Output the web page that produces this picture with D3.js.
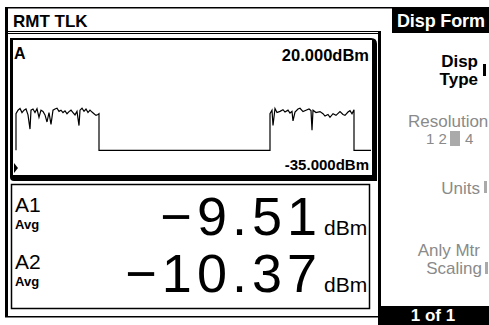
<!DOCTYPE html>
<html><head><meta charset="utf-8">
<script src="https://cdn.jsdelivr.net/npm/d3@7"></script>
<style>html,body{margin:0;padding:0;background:#fff;}svg{display:block;}</style>
</head><body>
<script>
// ---- data ----
const scaleTop = 20;      // dBm
const scaleBottom = -35;  // dBm
const topLabel = "20.000dBm";
const bottomLabel = "-35.000dBm";
const channelLabel = "A";
// trace: time position (display units) and power (dBm)
const traceT = [16,16,18,20,22,24,26,28,30,31,33,35,37,39,41,43,45,47,49,51,53,55,57,59,61,63,65,67,69,71,73,75,77,79,80,82,84,86,88,90,92,94,96,98,99,99,
  270,270,272,273,275,277,280,283,285,288,290,292,293,295,298,300,303,306,309,311,312,313,316,320,323,325,328,330,333,336,340,343,345,348,350,352,354,354,371];
const traceDbm = [-25,-9.5,-8,-7.3,-9,-8,-7.5,-10,-16,-8,-7.5,-9,-7.4,-11,-8,-8.5,-10,-13,-9,-14,-8,-7.5,-7.2,-8.5,-8,-9,-8.3,-9.5,-8.6,-8,-9,-10,-8.5,-14.5,-8,-7.2,-8.5,-7.5,-9,-8,-8.8,-9.5,-10.2,-9.8,-9.5,-25,
  -25,-9.5,-8,-14.5,-7.3,-9,-8.5,-7.8,-8.8,-8,-9.2,-8.5,-12.5,-8.8,-7.5,-7.2,-8.6,-8,-7.5,-8.2,-16.5,-8,-9,-8.6,-9.5,-10.5,-9.8,-11,-9.5,-10.2,-8.6,-9.8,-10.2,-8.8,-8.2,-9.5,-7.8,-25,-25];
const rowNames = ["A1","A2"];
const rowModes = ["Avg","Avg"];
const rowValues = ["\u22129.51","\u221210.37"];
const rowUnits = ["dBm","dBm"];
const headerLeft = "RMT TLK";
const headerRight = "Disp Form";
const pageLabel = "1 of 1";

const W = 489, H = 325;
const svg = d3.select("body").append("svg").attr("width", W).attr("height", H);
const F = "'Liberation Sans', Arial, sans-serif";

// ---- frames ----
svg.append("rect").attr("x",0).attr("y",0).attr("width",W).attr("height",H).attr("fill","#fff");
svg.append("rect").attr("x",5).attr("y",7).attr("width",3).attr("height",310).attr("fill","#000");
svg.append("rect").attr("x",5).attr("y",7).attr("width",387).attr("height",1.5).attr("fill","#000");
svg.append("rect").attr("x",5).attr("y",316).attr("width",374).attr("height",1.5).attr("fill","#000");
svg.append("rect").attr("x",8).attr("y",31).attr("width",372).attr("height",1).attr("fill","#000");
svg.append("rect").attr("x",8).attr("y",33).attr("width",372).attr("height",1).attr("fill","#000");
svg.append("text").attr("x",13).attr("y",27).attr("font-family",F).attr("font-weight","bold").attr("font-size",17).text(headerLeft);
svg.append("rect").attr("x",378).attr("y",31).attr("width",3).attr("height",294).attr("fill","#000");
svg.append("rect").attr("x",392).attr("y",7).attr("width",97).attr("height",26).attr("fill","#000");
svg.append("text").attr("x",397).attr("y",27).attr("fill","#fff").attr("font-family",F).attr("font-weight","bold").attr("font-size",18).attr("textLength",88).text(headerRight);
svg.append("rect").attr("x",378).attr("y",306).attr("width",111).attr("height",19).attr("fill","#000");
svg.append("text").attr("x",433).attr("y",321).attr("text-anchor","middle").attr("fill","#fff").attr("font-family",F).attr("font-weight","bold").attr("font-size",17).text(pageLabel);

// ---- graph panel ----
const gp = {x0:10, y0:38, x1:377, y1:181};
svg.append("path").attr("fill","#000")
  .attr("d", `M${gp.x0+4},${gp.y0} H${gp.x1-6} Q${gp.x1},${gp.y0} ${gp.x1},${gp.y0+6} V${gp.y1} H${gp.x0+4} Q${gp.x0},${gp.y1} ${gp.x0},${gp.y1-4} V${gp.y0} Z`);
svg.append("rect").attr("x",gp.x0+3).attr("y",gp.y0+2).attr("width",gp.x1-gp.x0-8).attr("height",gp.y1-gp.y0-8).attr("fill","#fff");

const x = d3.scaleLinear().domain([13, 372]).range([13, 372]);
const y = d3.scaleLinear().domain([scaleBottom, scaleTop]).range([174, 44]);
const line = d3.line().x((d,i)=>x(traceT[i])).y((d)=>y(d));
svg.append("path").datum(traceDbm).attr("d", line).attr("fill","none").attr("stroke","#000").attr("stroke-width",1.2);

svg.append("text").attr("x",14).attr("y",59).attr("font-family",F).attr("font-weight","bold").attr("font-size",16).text(channelLabel);
svg.append("text").attr("x",369).attr("y",61).attr("text-anchor","end").attr("font-family",F).attr("font-weight","bold").attr("font-size",16.5).text(topLabel);
svg.append("text").attr("x",369).attr("y",170).attr("text-anchor","end").attr("font-family",F).attr("font-weight","bold").attr("font-size",15).text(bottomLabel);
svg.append("path").attr("d","M14,163 L18,168 L14,173 Z").attr("fill","#000");

// ---- numeric panel ----
svg.append("rect").attr("x",11.5).attr("y",184.5).attr("width",358).attr("height",124).attr("fill","none").attr("stroke","#000").attr("stroke-width",1.5);
const rowY = [235, 292];
rowNames.forEach((n,i)=>{
  svg.append("text").attr("x",15).attr("y",rowY[i]-23).attr("font-family",F).attr("font-size",21).text(n);
  svg.append("text").attr("x",15).attr("y",rowY[i]-6).attr("font-family",F).attr("font-weight","bold").attr("font-size",13).text(rowModes[i]);
  svg.append("text").attr("x",322).attr("y",rowY[i]).attr("text-anchor","end").attr("font-family",F).attr("font-size",54).attr("letter-spacing",5).text(rowValues[i]);
  svg.append("text").attr("x",324).attr("y",rowY[i]).attr("font-family",F).attr("font-size",21).text(rowUnits[i]);
});

// ---- softkeys ----
const soft = svg.append("g").attr("font-family",F).attr("font-weight","bold").attr("font-size",17);
soft.append("text").attr("x",478).attr("y",67).attr("text-anchor","end").text("Disp");
soft.append("text").attr("x",478).attr("y",85).attr("text-anchor","end").text("Type");
svg.append("rect").attr("x",483).attr("y",64).attr("width",3).attr("height",12).attr("fill","#000");
const grey = svg.append("g").attr("font-family",F).attr("font-size",17).attr("fill","#8a8a8a");
grey.append("text").attr("x",408).attr("y",127).text("Resolution");
grey.append("text").attr("x",426).attr("y",144).attr("font-size",15).text("1 2");
svg.append("rect").attr("x",450).attr("y",131).attr("width",10).attr("height",15).attr("fill","#aaa");
grey.append("text").attr("x",451).attr("y",144).attr("font-size",15).attr("fill","#fff").text("3");
grey.append("text").attr("x",465).attr("y",144).attr("font-size",15).text("4");
grey.append("text").attr("x",480).attr("y",194).attr("text-anchor","end").text("Units");
svg.append("rect").attr("x",484).attr("y",181).attr("width",3).attr("height",12).attr("fill","#aaa");
grey.append("text").attr("x",480).attr("y",256).attr("text-anchor","end").text("Anly Mtr");
grey.append("text").attr("x",482).attr("y",274).attr("text-anchor","end").text("Scaling");
svg.append("rect").attr("x",485).attr("y",262).attr("width",3).attr("height",12).attr("fill","#aaa");
</script>
</body></html>
